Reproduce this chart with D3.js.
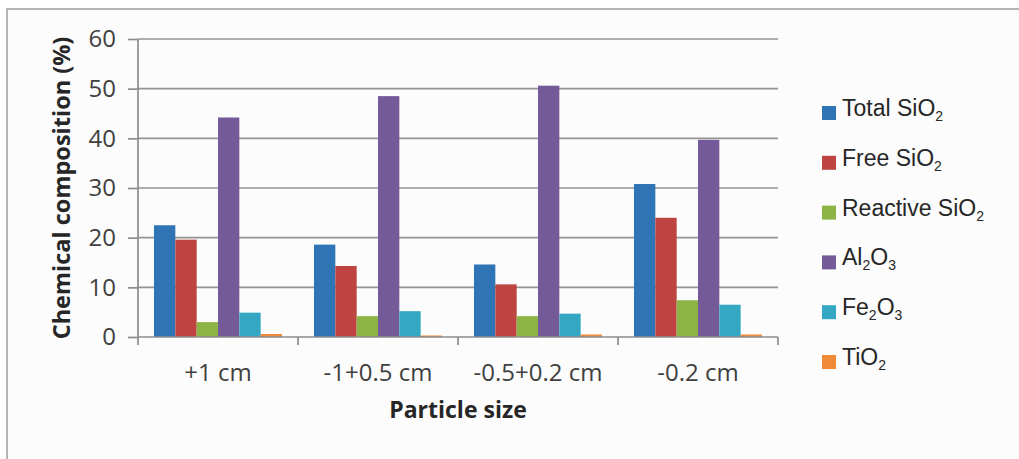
<!DOCTYPE html>
<html>
<head>
<meta charset="utf-8">
<title>Chemical composition by particle size</title>
<script src="https://d3js.org/d3.v7.min.js"></script>
<style>
  body { margin: 0; background: #ffffff; }
  svg { display: block; }
  .tick text { font-family: "Open Sans", sans-serif; font-size: 24px; fill: #404040; }
  .title { font-family: "Open Sans", sans-serif; font-weight: bold; fill: #262626; }
  .legend text { font-family: "Liberation Sans", Arial, sans-serif; font-size: 23px; fill: #262626; }
</style>
</head>
<body>
<script>
// data
var categories = ["+1 cm", "-1+0.5 cm", "-0.5+0.2 cm", "-0.2 cm"];
var seriesNames = ["Total SiO2", "Free SiO2", "Reactive SiO2", "Al2O3", "Fe2O3", "TiO2"];
var totalSiO2 = [22.5, 18.6, 14.6, 30.8];
var freeSiO2 = [19.6, 14.3, 10.6, 24.0];
var reactiveSiO2 = [3.0, 4.2, 4.2, 7.4];
var al2o3 = [44.2, 48.5, 50.6, 39.7];
var fe2o3 = [4.9, 5.2, 4.7, 6.5];
var tio2 = [0.6, 0.3, 0.5, 0.5];
var yTicks = [0, 10, 20, 30, 40, 50, 60];

var seriesValues = [totalSiO2, freeSiO2, reactiveSiO2, al2o3, fe2o3, tio2];
var colors = ["#2f74b5", "#be4441", "#8db545", "#755a9a", "#34a7c3", "#f18a36"];

var width = 1019, height = 459;
var plotLeft = 138, plotRight = 778, plotTop = 39, plotBottom = 337;

var svg = d3.select("body").append("svg")
    .attr("width", width)
    .attr("height", height);

// frame (top and left edge only, the picture is cropped)
svg.append("rect")
    .attr("x", 7).attr("y", 9)
    .attr("width", width - 7).attr("height", height - 9)
    .attr("fill", "#fcfcfc");
svg.append("line")
    .attr("x1", 6).attr("x2", width).attr("y1", 9).attr("y2", 9)
    .attr("stroke", "#b5b5b5").attr("stroke-width", 2);
svg.append("line")
    .attr("x1", 7).attr("x2", 7).attr("y1", 9).attr("y2", height)
    .attr("stroke", "#b5b5b5").attr("stroke-width", 2);

var x0 = d3.scaleBand()
    .domain(categories)
    .range([plotLeft, plotRight])
    .paddingInner(0.2)
    .paddingOuter(0.1);

var x1 = d3.scaleBand()
    .domain(seriesNames)
    .range([0, x0.bandwidth()]);

var y = d3.scaleLinear()
    .domain([0, 60])
    .range([plotBottom, plotTop]);

// gridlines
svg.append("g")
    .selectAll("line")
    .data(yTicks.slice(1))
    .enter()
    .append("line")
    .attr("x1", plotLeft).attr("x2", plotRight)
    .attr("y1", d => y(d)).attr("y2", d => y(d))
    .attr("stroke", "#939393")
    .attr("stroke-width", 1.7);

// y axis
var yAxis = svg.append("g")
    .attr("transform", "translate(" + plotLeft + ",0)")
    .call(d3.axisLeft(y).tickValues(yTicks).tickSize(10).tickPadding(12));
yAxis.select(".domain").remove();
yAxis.selectAll(".tick line").attr("stroke", "#8c8c8c").attr("stroke-width", 1.7);
yAxis.append("line")
    .attr("x1", 0).attr("x2", 0)
    .attr("y1", plotTop).attr("y2", plotBottom + 8)
    .attr("stroke", "#8c8c8c").attr("stroke-width", 1.7);

// bars
var groups = svg.append("g")
    .selectAll("g")
    .data(categories)
    .enter()
    .append("g")
    .attr("transform", d => "translate(" + x0(d) + ",0)");

groups.selectAll("rect")
    .data((d, i) => seriesNames.map((s, j) => ({ s: s, v: seriesValues[j][i], c: colors[j] })))
    .enter()
    .append("rect")
    .attr("x", d => x1(d.s))
    .attr("y", d => y(d.v))
    .attr("width", x1.bandwidth())
    .attr("height", d => y(0) - y(d.v))
    .attr("fill", d => d.c);

// x axis
var xAxis = svg.append("g")
    .attr("transform", "translate(0," + plotBottom + ")")
    .call(d3.axisBottom(x0).tickSize(0).tickPadding(27));
xAxis.select(".domain").remove();
xAxis.append("line")
    .attr("x1", plotLeft).attr("x2", plotRight)
    .attr("stroke", "#8c8c8c").attr("stroke-width", 1.7);
xAxis.selectAll(".sep")
    .data(categories)
    .enter()
    .append("line")
    .attr("class", "sep")
    .attr("x1", d => x0(d) - x0.step() * 0.1 + x0.step())
    .attr("x2", d => x0(d) - x0.step() * 0.1 + x0.step())
    .attr("y1", 0).attr("y2", 8)
    .attr("stroke", "#8c8c8c").attr("stroke-width", 1.7);

// axis titles
svg.append("text")
    .attr("class", "title")
    .attr("x", (plotLeft + plotRight) / 2)
    .attr("y", 418)
    .attr("text-anchor", "middle")
    .attr("font-size", "23px")
    .text("Particle size");

svg.append("text")
    .attr("class", "title")
    .attr("transform", "translate(70," + (plotTop + plotBottom) / 2 + ") rotate(-90)")
    .attr("text-anchor", "middle")
    .attr("font-size", "23.5px")
    .text("Chemical composition (%)");

// legend, digits in formulas drawn as subscripts
var legend = svg.append("g").attr("class", "legend");
var rows = legend.selectAll("g")
    .data(seriesNames)
    .enter()
    .append("g")
    .attr("transform", (d, i) => "translate(822," + (113 + i * 49.8) + ")");

rows.append("rect")
    .attr("x", 0).attr("y", -7)
    .attr("width", 14).attr("height", 14)
    .attr("fill", (d, i) => colors[i]);

rows.append("text")
    .attr("x", 20)
    .attr("y", 8)
    .each(function(d) {
        var t = d3.select(this);
        d.split(/(\d)/).forEach(function(part) {
            if (part === "") return;
            if (/\d/.test(part)) {
                t.append("tspan").attr("dy", 5).attr("font-size", "14px").text(part);
            } else {
                t.append("tspan").attr("dy", t.selectAll("tspan").size() ? -5 : 0).text(part);
            }
        });
    });
</script>
</body>
</html>
